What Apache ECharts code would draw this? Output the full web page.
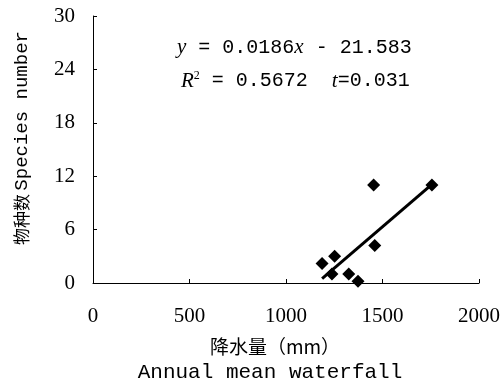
<!DOCTYPE html>
<html>
<head>
<meta charset="utf-8">
<style>
  html, body { margin: 0; padding: 0; background: #fff; }
  #chart { width: 503px; height: 380px; }
</style>
<script src="https://cdn.jsdelivr.net/npm/echarts@6/dist/echarts.min.js"></script>
</head>
<body>
<div id="chart"></div>
<script>
// rainfall (mm) and species number per site
var rainfall = [1454, 1756, 1460, 1252, 1187, 1238, 1325, 1373];
var species = [11, 11, 4.2, 3, 2.2, 1, 1, 0.2];
// fitted line y = a*x + b
var slope = 0.0186;
var intercept = -21.583;
var xTicks = [0, 500, 1000, 1500, 2000];
var yTicks = [0, 6, 12, 18, 24, 30];

var points = [];
for (var i = 0; i < rainfall.length; i++) {
  points.push([rainfall[i], species[i]]);
}
var xMin = Math.min.apply(null, rainfall);
var xMax = Math.max.apply(null, rainfall);
var fitLine = [
  [xMin, slope * xMin + intercept],
  [xMax, slope * xMax + intercept]
];

var serif = "'Liberation Serif', 'Noto Sans CJK SC', serif";
var mono = "'Liberation Mono', 'Noto Sans CJK SC', monospace";

var myChart = echarts.init(document.getElementById("chart"));
var option = {
  animation: false,
  grid: { left: 93, right: 24, top: 16, bottom: 97 },
  xAxis: {
    type: "value",
    min: xTicks[0],
    max: xTicks[xTicks.length - 1],
    interval: 500,
    splitLine: { show: false },
    axisLine: { lineStyle: { color: "#000", width: 1 } },
    axisTick: { inside: true, length: 4, lineStyle: { color: "#000" } },
    axisLabel: {
      margin: 23,
      color: "#000",
      fontFamily: serif,
      fontSize: 21,
      formatter: function (v) { return String(v); }
    }
  },
  yAxis: {
    type: "value",
    min: yTicks[0],
    max: yTicks[yTicks.length - 1],
    interval: 6,
    splitLine: { show: false },
    axisLine: { show: true, lineStyle: { color: "#000", width: 1 } },
    axisTick: { show: true, inside: true, length: 4, lineStyle: { color: "#000" } },
    axisLabel: {
      margin: 18,
      color: "#000",
      fontFamily: serif,
      fontSize: 21
    }
  },
  series: [
    {
      type: "line",
      data: fitLine,
      symbol: "none",
      lineStyle: { color: "#000", width: 3 },
      z: 2
    },
    {
      type: "scatter",
      data: points,
      symbol: "diamond",
      symbolSize: 13,
      itemStyle: { color: "#000", opacity: 1 },
      z: 3
    }
  ],
  graphic: [
    {
      type: "text",
      left: 177,
      top: 37,
      style: {
        text: "{i|y} = 0.0186{i|x} - 21.583",
        fontFamily: mono,
        fontSize: 20,
        fill: "#000",
        rich: {
          i: { fontStyle: "italic", fontFamily: serif, fontSize: 21 }
        }
      }
    },
    {
      type: "text",
      left: 181,
      top: 70,
      style: {
        text: "{i|R}{s|2} = 0.5672  {i|t}=0.031",
        fontFamily: mono,
        fontSize: 20,
        fill: "#000",
        rich: {
          i: { fontStyle: "italic", fontFamily: serif, fontSize: 21 },
          s: { fontFamily: serif, fontSize: 12, verticalAlign: "top", padding: [0, 0, 10, 0] }
        }
      }
    },
    {
      type: "text",
      x: 22,
      y: 138,
      rotation: Math.PI / 2,
      style: {
        text: "{c|物种数} {m|Species number}",
        align: "center",
        verticalAlign: "middle",
        fill: "#000",
        rich: {
          c: { fontFamily: "'Noto Sans CJK SC'", fontSize: 17 },
          m: { fontFamily: mono, fontSize: 19 }
        }
      }
    },
    {
      type: "text",
      x: 275,
      y: 347,
      style: {
        text: "{c|降水量}{c|（mm）}",
        align: "center",
        verticalAlign: "middle",
        fill: "#000",
        rich: {
          c: { fontFamily: "'Noto Sans CJK SC'", fontSize: 19 }
        }
      }
    },
    {
      type: "text",
      x: 270,
      y: 372,
      style: {
        text: "Annual mean waterfall",
        align: "center",
        verticalAlign: "middle",
        fill: "#000",
        fontFamily: mono,
        fontSize: 21
      }
    }
  ]
};
myChart.setOption(option);
</script>
</body>
</html>
